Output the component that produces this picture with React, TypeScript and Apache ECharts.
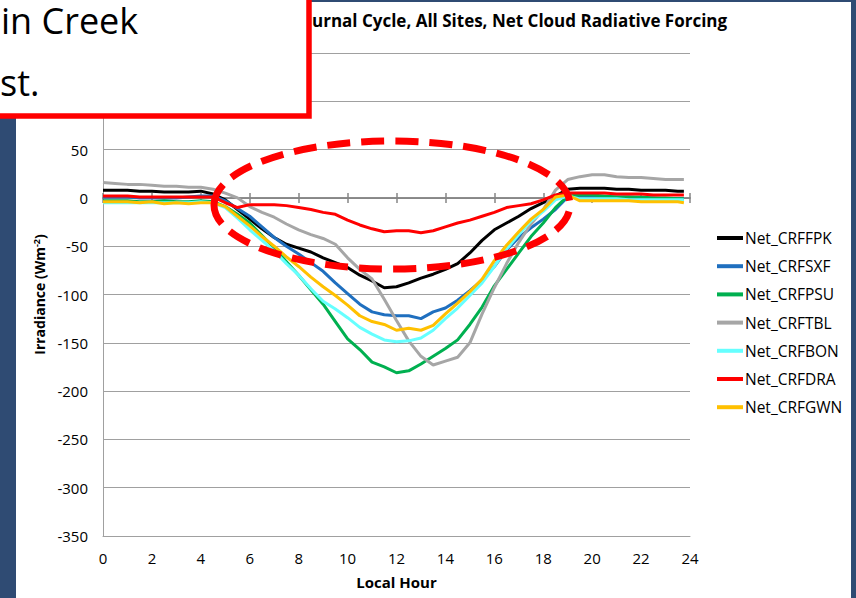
import React, { useEffect, useRef } from "react";
import * as echarts from "echarts";

// Local hour of each sample (half-hourly, last one just before midnight)
const hours = [
  0, 0.5, 1, 1.5, 2, 2.5, 3, 3.5, 4, 4.5,
  5, 5.5, 6, 6.5, 7, 7.5, 8, 8.5, 9, 9.5,
  10, 10.5, 11, 11.5, 12, 12.5, 13, 13.5, 14, 14.5,
  15, 15.5, 16, 16.5, 17, 17.5, 18, 18.5, 19, 19.5,
  20, 20.5, 21, 21.5, 22, 22.5, 23, 23.5, 23.75,
];

// Net cloud radiative forcing (W m-2) per site
const netCrfFpk = [
  8, 8, 8, 7, 7, 6, 6, 6, 7, 4,
  -2, -12, -22, -32, -41, -48, -52, -56, -62, -67,
  -72, -80, -86, -93, -92, -88, -83, -79, -74, -68,
  -57, -44, -33, -26, -19, -11, -5, 2, 9, 10,
  10, 10, 9, 9, 8, 8, 8, 7, 7,
];
const netCrfSxf = [
  1, 1, 1, 0, 0, 0, 0, 1, 2, 2,
  -3, -11, -19, -30, -41, -50, -58, -67, -76, -88,
  -99, -110, -118, -121, -122, -122, -125, -118, -114, -106,
  -96, -85, -71, -54, -41, -31, -22, -12, 1, 2,
  1, 1, 1, 1, 0, 0, -1, -1, -1,
];
const netCrfPsu = [
  -3, -3, -3, -4, -4, -3, -4, -4, -3, -4,
  -9, -17, -26, -39, -52, -66, -80, -95, -110, -128,
  -146, -157, -170, -175, -181, -179, -172, -164, -156, -147,
  -131, -113, -91, -74, -57, -40, -26, -10, 2, 3,
  3, 2, 1, 1, 1, 0, 0, -1, -1,
];
const netCrfTbl = [
  16, 15, 14, 14, 13, 12, 12, 11, 11, 9,
  5, 0, -9, -15, -20, -27, -33, -38, -42, -48,
  -62, -74, -84, -105, -127, -148, -164, -173, -169, -165,
  -150, -120, -93, -68, -46, -27, -12, 8, 19, 22,
  24, 24, 22, 21, 21, 20, 19, 19, 19,
];
const netCrfBon = [
  -5, -5, -5, -5, -5, -5, -5, -5, -4, -5,
  -10, -21, -33, -44, -55, -68, -80, -94, -107, -115,
  -124, -134, -141, -147, -149, -148, -145, -137, -125, -114,
  -101, -88, -71, -53, -38, -24, -14, -2, 2, -1,
  -1, -1, -1, -2, -2, -2, -2, -2, -2,
];
const netCrfDra = [
  2, 2, 2, 1, 1, 1, 1, 1, 1, 1,
  -5, -10, -7, -7, -7, -8, -10, -12, -15, -17,
  -23, -28, -32, -35, -34, -34, -36, -34, -30, -26,
  -23, -19, -15, -10, -8, -6, -2, 3, 5, 5,
  5, 5, 4, 4, 4, 3, 3, 3, 3,
];
const netCrfGwn = [
  -4, -4, -4, -5, -4, -6, -5, -6, -5, -5,
  -9, -19, -29, -40, -50, -61, -71, -82, -92, -101,
  -111, -122, -128, -131, -137, -135, -137, -132, -120, -109,
  -97, -84, -65, -49, -35, -22, -12, 1, 3, -3,
  -3, -3, -3, -3, -4, -4, -4, -4, -5,
];

const seriesNames = [
  "Net_CRFFPK",
  "Net_CRFSXF",
  "Net_CRFPSU",
  "Net_CRFTBL",
  "Net_CRFBON",
  "Net_CRFDRA",
  "Net_CRFGWN",
];
const seriesValues = [netCrfFpk, netCrfSxf, netCrfPsu, netCrfTbl, netCrfBon, netCrfDra, netCrfGwn];
const seriesColors = ["#000000", "#1F6FBF", "#00B050", "#A6A6A6", "#66FFFF", "#FF0000", "#FFC000"];

const yTicks = { min: -350, max: 150, step: 50 };
const xTicks = { min: 0, max: 24, step: 2 };

const titleText = "urnal Cycle, All Sites, Net Cloud Radiative Forcing";
const calloutLines = ["in Creek", "st."];

const FONT = "'Open Sans', 'Noto Sans', sans-serif";
const GRID = { left: 103, right: 166, top: 53, bottom: 62 };

export default function App() {
  const ref = useRef<HTMLDivElement>(null);

  useEffect(() => {
    if (!ref.current) return;
    const chart = echarts.init(ref.current, null, { renderer: "svg" });

    const hiddenY = {
      type: "value",
      gridIndex: 1,
      min: yTicks.min,
      max: yTicks.max,
      interval: yTicks.step,
      show: false,
    };

    const calloutText = (text: string, x: number, y: number) => ({
      type: "text",
      silent: true,
      z: 201,
      x,
      y,
      style: {
        text,
        font: `36px ${FONT}`,
        fill: "#000",
        verticalAlign: "middle",
      },
    });

    const option: any = {
      animation: false,
      backgroundColor: "#FFFFFF",
      textStyle: { fontFamily: FONT },
      title: {
        text: titleText,
        left: 312,
        top: 12,
        padding: 0,
        textStyle: { fontFamily: FONT, fontSize: 17, fontWeight: "bold", color: "#000" },
      },
      grid: [
        { ...GRID, containLabel: false },
        { ...GRID, containLabel: false },
      ],
      legend: {
        data: seriesNames,
        orient: "vertical",
        left: 717,
        top: 230,
        padding: 0,
        icon: "rect",
        itemWidth: 26,
        itemHeight: 4,
        itemGap: 12.2,
        textStyle: { fontFamily: FONT, fontSize: 15.5, lineHeight: 16, color: "#000", padding: [0, 0, 0, -3] },
      },
      xAxis: [
        {
          type: "value",
          gridIndex: 0,
          min: xTicks.min,
          max: xTicks.max,
          interval: xTicks.step,
          position: "bottom",
          name: "Local Hour",
          nameLocation: "middle",
          nameGap: 38,
          nameTextStyle: { fontFamily: FONT, fontSize: 15, fontWeight: "bold", color: "#000" },
          axisLine: { onZero: false, lineStyle: { color: "#A0A0A0", width: 1 } },
          axisTick: { show: false },
          axisLabel: { fontFamily: FONT, fontSize: 15, color: "#000", margin: 14 },
          splitLine: { show: false },
        },
        {
          // zero line with ticks pointing down
          type: "value",
          gridIndex: 0,
          min: xTicks.min,
          max: xTicks.max,
          interval: xTicks.step,
          position: "top",
          axisLine: { onZero: true, lineStyle: { color: "#868686", width: 1.5 } },
          axisTick: { show: true, inside: true, length: 5, lineStyle: { color: "#868686", width: 1.5 } },
          axisLabel: { show: false },
          splitLine: { show: false },
        },
        {
          // zero line ticks pointing up
          type: "value",
          gridIndex: 1,
          min: xTicks.min,
          max: xTicks.max,
          interval: xTicks.step,
          position: "bottom",
          axisLine: { onZero: true, lineStyle: { color: "#868686", width: 1.5 } },
          axisTick: { show: true, inside: true, length: 5, lineStyle: { color: "#868686", width: 1.5 } },
          axisLabel: { show: false },
          splitLine: { show: false },
        },
      ],
      yAxis: [
        {
          type: "value",
          gridIndex: 0,
          min: yTicks.min,
          max: yTicks.max,
          interval: yTicks.step,
          name: "{b|Irradiance (Wm}{s|-2}{b|)}",
          nameLocation: "middle",
          nameRotate: 90,
          nameGap: 49,
          nameTextStyle: {
            rich: {
              b: { fontFamily: FONT, fontSize: 14, fontWeight: "bold", color: "#000", lineHeight: 16 },
              s: { fontFamily: FONT, fontSize: 9, fontWeight: "bold", color: "#000", verticalAlign: "top" },
            },
          },
          axisLine: { show: true, onZero: false, lineStyle: { color: "#A0A0A0", width: 1 } },
          axisTick: { show: false },
          axisLabel: { fontFamily: FONT, fontSize: 15, color: "#000", margin: 15 },
          splitLine: { show: true, lineStyle: { color: "#A0A0A0", width: 1 } },
        },
        hiddenY,
      ],
      series: seriesNames.map((name, i) => ({
        name,
        type: "line",
        xAxisIndex: 0,
        yAxisIndex: 0,
        data: hours.map((h, j) => [h, seriesValues[i][j]]),
        symbol: "none",
        lineStyle: { color: seriesColors[i], width: 3 },
        itemStyle: { color: seriesColors[i] },
        z: 3 + i,
      })),
      graphic: [
        // slide frame
        { type: "rect", silent: true, z: 0, shape: { x: 0, y: 0, width: 16, height: 598 }, style: { fill: "#2F4B73" } },
        { type: "rect", silent: true, z: 0, shape: { x: 851, y: 0, width: 5, height: 598 }, style: { fill: "#2F4B73" } },
        { type: "rect", silent: true, z: 0, shape: { x: 0, y: 0, width: 856, height: 2 }, style: { fill: "#2F4B73" } },
        // highlight ellipse
        {
          type: "ellipse",
          silent: true,
          z: 100,
          shape: { cx: 392, cy: 205, rx: 178, ry: 64 },
          style: { fill: "none", stroke: "#FF0000", lineWidth: 7, lineDash: [23, 11] },
        },
        // callout box
        {
          type: "group",
          z: 200,
          children: [
            {
              type: "rect",
              silent: true,
              z: 200,
              shape: { x: -10, y: -10, width: 319, height: 126 },
              style: { fill: "#FFFFFF", stroke: "#FF0000", lineWidth: 5.5 },
            },
            calloutText(calloutLines[0], 1, 20),
            calloutText(calloutLines[1], 0, 82),
          ],
        },
      ],
    };

    chart.setOption(option);
    return () => chart.dispose();
  }, []);

  return (
    <div
      ref={ref}
      style={{ position: "fixed", left: 0, top: 0, width: 856, height: 598 }}
    />
  );
}
